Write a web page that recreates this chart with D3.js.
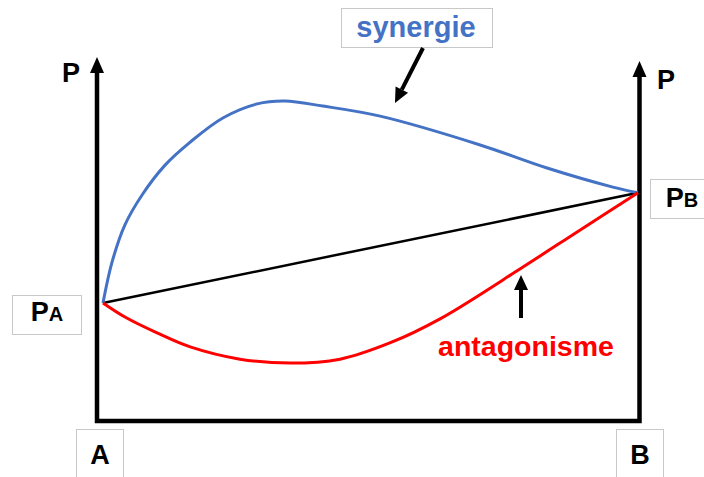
<!DOCTYPE html>
<html>
<head>
<meta charset="utf-8">
<script src="https://cdn.jsdelivr.net/npm/d3@7"></script>
<style>
	body { margin: 0; background: #fff; }
	text { font-family: "Liberation Sans", Arial, sans-serif; font-weight: bold; }
</style>
</head>
<body>
<div id="chart"></div>
<script>
var width = 704,
	height = 477;

// x = position between A (0) and B (100), y = P
var lineX = [0, 100];
var lineY = [32.5, 63.1];

var synergieX = [0, 1.7, 4.1, 7.3, 11.6, 16.3, 22.4, 28.8, 34.0, 41.1, 51.8, 70.5, 83.0, 95.3, 100];
var synergieY = [32.5, 43.9, 54.2, 62.5, 70.8, 77.2, 83.9, 87.8, 88.6, 87.2, 84.4, 76.4, 70.0, 64.7, 63.1];

var antagX = [0, 4.1, 10.1, 16.3, 25.6, 35.0, 44.3, 53.6, 63.0, 78.5, 89.2, 100];
var antagY = [32.5, 28.6, 24.2, 20.3, 16.9, 15.8, 16.9, 21.4, 28.1, 42.5, 52.8, 63.1];

var x = d3.scaleLinear().domain([0, 100]).range([103, 638]);
var y = d3.scaleLinear().domain([0, 100]).range([420, 60]);

var svg = d3.select("#chart").append("svg")
	.attr("width", width)
	.attr("height", height);

function zip(xs, ys) {
	return xs.map(function (v, i) { return [v, ys[i]]; });
}

var line = d3.line()
	.x(function (d) { return x(d[0]); })
	.y(function (d) { return y(d[1]); })
	.curve(d3.curveCatmullRom.alpha(0.5));

/* ------- FRAME -------*/
var left = x(0) - 6,
	right = x(100) + 1.5,
	bottom = y(0) + 1;

svg.append("path")
	.attr("d", "M" + left + "," + 70 + "V" + bottom + "H" + right + "V" + 74)
	.attr("fill", "none")
	.attr("stroke", "#000")
	.attr("stroke-width", 4.5)
	.attr("stroke-linejoin", "miter");

function arrowHead(cx, tipY) {
	svg.append("path")
		.attr("d", "M" + cx + "," + tipY + "L" + (cx + 7) + "," + (tipY + 16) + "L" + (cx - 7) + "," + (tipY + 16) + "Z")
		.attr("fill", "#000");
}
arrowHead(left, 57);
arrowHead(right, 61);

svg.append("text").attr("x", 71).attr("y", 82).attr("text-anchor", "middle")
	.attr("font-size", 27).text("P");
svg.append("text").attr("x", 666).attr("y", 89).attr("text-anchor", "middle")
	.attr("font-size", 27).text("P");

/* ------- CURVES -------*/
svg.append("path")
	.attr("d", line(zip(lineX, lineY)))
	.attr("fill", "none")
	.attr("stroke", "#000")
	.attr("stroke-width", 2.5);

svg.append("path")
	.attr("d", line(zip(synergieX, synergieY)))
	.attr("fill", "none")
	.attr("stroke", "#4472C4")
	.attr("stroke-width", 3);

svg.append("path")
	.attr("d", line(zip(antagX, antagY)))
	.attr("fill", "none")
	.attr("stroke", "#FF0000")
	.attr("stroke-width", 3);

/* ------- LABEL BOXES -------*/
function box(x0, y0, w, h) {
	svg.append("rect")
		.attr("x", x0 + 0.5).attr("y", y0 + 0.5)
		.attr("width", w).attr("height", h)
		.attr("fill", "#fff")
		.attr("stroke", "#c8c8c8")
		.attr("stroke-width", 1);
}

box(341, 8, 151, 39);
svg.append("text").attr("x", 416).attr("y", 37).attr("text-anchor", "middle")
	.attr("font-size", 29).attr("fill", "#4472C4").text("synergie");

box(12, 295, 69, 39);
var pa = svg.append("text").attr("x", 47).attr("y", 321).attr("text-anchor", "middle").attr("font-size", 27);
pa.append("tspan").text("P");
pa.append("tspan").attr("font-size", 20).text("A");

box(650, 179, 60, 39);
var pb = svg.append("text").attr("x", 682).attr("y", 207).attr("text-anchor", "middle").attr("font-size", 27);
pb.append("tspan").text("P");
pb.append("tspan").attr("font-size", 20).text("B");

box(76, 429, 47, 60);
svg.append("text").attr("x", 100).attr("y", 464).attr("text-anchor", "middle")
	.attr("font-size", 27).text("A");

box(616, 429, 47, 60);
svg.append("text").attr("x", 640).attr("y", 464).attr("text-anchor", "middle")
	.attr("font-size", 27).text("B");

svg.append("text").attr("x", 526).attr("y", 356).attr("text-anchor", "middle")
	.attr("font-size", 28.5).attr("fill", "#FF0000").text("antagonisme");

/* ------- POINTER ARROWS -------*/
function pointer(x1, y1, x2, y2) {
	var ang = Math.atan2(y2 - y1, x2 - x1),
		len = 15, half = 7;
	var bx = x2 - len * Math.cos(ang),
		by = y2 - len * Math.sin(ang);
	svg.append("line")
		.attr("x1", x1).attr("y1", y1).attr("x2", bx).attr("y2", by)
		.attr("stroke", "#000").attr("stroke-width", 4);
	svg.append("path")
		.attr("d", "M" + x2 + "," + y2 +
			"L" + (bx + half * Math.sin(ang)) + "," + (by - half * Math.cos(ang)) +
			"L" + (bx - half * Math.sin(ang)) + "," + (by + half * Math.cos(ang)) + "Z")
		.attr("fill", "#000");
}
pointer(423, 48, 395, 103);
pointer(521, 318, 521, 275);
</script>
</body>
</html>
